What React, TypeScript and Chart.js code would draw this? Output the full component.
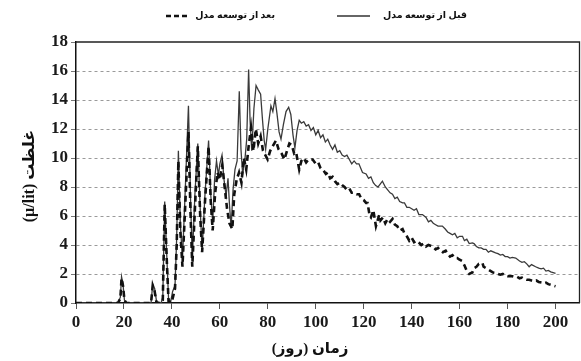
import React, { useEffect, useRef } from "react";
import { Chart, registerables } from "chart.js";

Chart.register(...registerables);

// Solid line: before model development
const beforeDays = [
  0, 17.5, 18.5, 19, 19.6, 20.2, 21, 31.3, 32, 32.8, 33.6, 35.5, 36.2, 37, 37.8, 38.6, 39.5, 40.3, 41.3, 42,
  42.7, 43.5, 44.4, 45.5, 46.9, 47.8, 48.5, 49.6, 50.8, 51.8, 52.6, 53.8, 55.3, 56.2, 57, 57.8, 58.6, 59.4, 60, 60.9,
  61.8, 62.6, 63.4, 64, 64.7, 65.5, 66.3, 67.2, 68.1, 68.8, 69.5, 70.4, 71.2, 72, 72.6, 73.3, 74.2, 75.1, 76, 77,
  77.8, 78.5, 79.1, 80, 81.3, 82.1, 83, 83.8, 84.7, 85.5, 86.5, 87.6, 88.7, 89.6, 90.5, 91.3, 92.2, 93.1, 94, 95,
  96, 97, 98, 99, 100, 101, 102, 103, 104, 105, 106, 107, 108, 109, 110, 111, 112, 113, 114, 115,
  116, 117, 118, 119.5, 121, 122, 123, 124, 125, 126, 127.8, 129, 130, 131, 132, 133, 134, 135, 136.2, 137,
  138, 139, 140, 141, 142, 143, 144.5, 146, 147, 148, 149, 150, 151, 152.8, 154, 155, 156, 157, 158, 159,
  160, 161.2, 162, 163, 164, 165.3, 166, 167, 168, 169, 170, 171, 172, 173, 175, 176, 177, 178, 179, 180,
  181, 182, 183.4, 185, 186, 187, 188, 189, 190, 191.7, 193, 194, 195, 196, 197, 198, 199, 200,
];
const beforeValues = [
  0, 0, 0.4, 1.8, 1.3, 0.2, 0, 0, 1.3, 1.0, 0.1, 0, 0.4, 7.0, 3.5, 0.3, 0.1, 0.8, 1.2, 4.5,
  10.5, 5.5, 3.0, 7.5, 13.6, 7.0, 3.0, 7.5, 11.0, 6.5, 3.6, 7.5, 11.2, 7.5, 5.5, 8.5, 9.8, 8.8, 9.6, 10.2,
  8.4, 7.4, 8.6, 6.8, 5.2, 7.8, 9.2, 9.8, 14.6, 10.6, 8.9, 9.8, 11.3, 16.1, 12.6, 10.5, 13.4, 15.0, 14.7, 14.4,
  12.6, 11.2, 10.6, 12.0, 13.6, 13.2, 14.1, 13.1, 11.8, 11.3, 12.3, 13.2, 13.5, 13.0, 11.6, 10.7, 11.9, 12.6, 12.4, 12.5,
  12.2, 12.3, 11.9, 12.1, 11.6, 11.9, 11.4, 11.6, 11.1, 11.3, 10.9, 10.6, 10.9, 10.4, 10.5, 10.2, 10.1, 10.2, 9.9, 9.6,
  9.8, 9.6, 9.6, 9.0, 8.9, 8.6, 8.7, 8.3, 8.1, 8.0, 8.4, 8.0, 7.8, 7.6, 7.5, 7.2, 7.3, 7.0, 6.9, 6.9,
  6.6, 6.6, 6.5, 6.4, 6.5, 6.1, 6.1, 5.9, 5.6, 5.7, 5.5, 5.4, 5.3, 5.3, 5.1, 4.9, 4.8, 4.7, 4.8, 4.5,
  4.6, 4.6, 4.3, 4.4, 4.1, 4.15, 4.1, 3.9, 3.8, 3.8, 3.7, 3.7, 3.5, 3.6, 3.46, 3.4, 3.3, 3.35, 3.2, 3.2,
  3.1, 3.15, 3.1, 2.9, 2.8, 2.85, 2.7, 2.5, 2.65, 2.5, 2.4, 2.35, 2.4, 2.2, 2.25, 2.15, 2.1, 2.05,
];

// Dashed line: after model development
const afterDays = [
  0, 17.5, 18.5, 19, 19.6, 20.2, 21, 31.3, 32, 32.8, 33.6, 35.5, 36.2, 37, 37.8, 38.6, 39.5, 40.3, 41.3, 42,
  42.7, 43.5, 44.4, 45.5, 46.9, 47.8, 48.5, 49.6, 50.8, 51.8, 52.6, 53.8, 55.3, 56.2, 57, 58, 59, 60, 61, 62,
  63, 64, 65.2, 66, 67, 68, 69, 70, 71, 72, 73, 74, 75, 76, 77, 78, 79.9, 81, 82, 83.4,
  84.5, 85.8, 86.9, 88, 89, 90, 91, 91.8, 93.1, 94, 95, 96, 97, 98.7, 100, 101, 102, 103, 104.2, 105,
  106, 107, 108, 109, 110, 111.2, 112, 113, 114, 115, 116, 117, 118.1, 119, 120, 121, 121.6, 122.5, 123, 124,
  125.1, 126.5, 127, 128, 129, 130, 131, 132, 133, 134, 135, 136.2, 137, 138, 139, 140, 141, 142, 143.1, 144,
  145, 146, 147, 148.7, 150, 151, 152, 153, 154.2, 155, 156, 157, 158, 159, 159.8, 161, 162, 163, 164, 165.3,
  166, 167, 168, 169.5, 170, 171, 172, 173, 174, 175.1, 176, 177, 178, 179, 180, 182, 183, 184, 185, 186,
  187, 188, 189, 190, 191, 192, 193, 194.5, 195, 196, 197, 198, 199, 200,
];
const afterValues = [
  0, 0, 0.3, 1.7, 1.2, 0.2, 0, 0, 1.2, 0.8, 0, 0, 0.2, 6.8, 3.2, 0.1, 0, 0.3, 1.0, 4.0,
  9.8, 5.0, 2.5, 6.5, 11.8, 6.0, 2.5, 6.5, 10.8, 6.0, 3.5, 7.0, 10.8, 7.0, 5.0, 7.5, 9.0, 8.5, 9.5, 8.0,
  6.5, 5.5, 5.1, 7.5, 8.5, 9.0, 8.3, 10.0, 9.2, 10.8, 12.1, 10.5, 12.0, 11.0, 11.5, 10.5, 9.9, 10.5, 10.8, 11.2,
  10.6, 10.3, 9.9, 10.5, 11.0, 10.9, 10.3, 10.4, 9.2, 9.8, 10.0, 9.7, 9.9, 9.9, 9.6, 9.7, 9.3, 9.2, 8.9, 9.0,
  8.6, 8.7, 8.4, 8.2, 8.3, 8.1, 8.0, 7.8, 7.9, 7.6, 7.6, 7.5, 7.5, 7.2, 7.1, 6.9, 6.9, 6.0, 5.9, 6.4,
  5.3, 6.1, 5.7, 5.9, 5.5, 5.8, 5.6, 5.8, 5.4, 5.3, 5.0, 5.1, 4.8, 4.6, 4.3, 4.5, 4.2, 4.3, 4.15, 4.0,
  4.1, 3.9, 4.0, 3.9, 3.7, 3.8, 3.6, 3.5, 3.6, 3.4, 3.2, 3.3, 3.1, 3.1, 3.0, 2.9, 2.6, 2.2, 2.0, 2.1,
  2.4, 2.5, 2.7, 2.77, 2.5, 2.4, 2.3, 2.2, 2.1, 2.07, 2.0, 1.95, 2.0, 1.9, 1.85, 1.85, 1.8, 1.8, 1.7, 1.75,
  1.65, 1.6, 1.6, 1.55, 1.5, 1.55, 1.45, 1.4, 1.35, 1.4, 1.3, 1.25, 1.2, 1.15,
];

const xTicks = [0, 20, 40, 60, 80, 100, 120, 140, 160, 180, 200];
const yTicks = [0, 2, 4, 6, 8, 10, 12, 14, 16, 18];
const beforeLabel = "قبل از توسعه مدل";
const afterLabel = "بعد از توسعه مدل";
const xTitle = "زمان (روز)";
const yTitle = "غلظت (µ/lit)";

const SERIF = "'Liberation Serif', 'Times New Roman', 'DejaVu Sans', serif";

const decorPlugin = {
  id: "decor",
  afterDatasetsDraw(chart: any) {
    const { ctx, chartArea } = chart;
    ctx.save();
    ctx.strokeStyle = "#222";
    ctx.lineWidth = 1.3;
    ctx.beginPath();
    ctx.moveTo(chartArea.left, chartArea.top);
    ctx.lineTo(chartArea.right, chartArea.top);
    ctx.lineTo(chartArea.right, chartArea.bottom);
    ctx.stroke();
    ctx.restore();
  },
  afterDraw(chart: any) {
    const { ctx } = chart;
    ctx.save();
    ctx.fillStyle = "#111";
    ctx.direction = "rtl";
    ctx.textBaseline = "middle";

    // legend
    ctx.font = `bold 9.5px ${SERIF}`;
    ctx.textAlign = "right";
    ctx.fillText(beforeLabel, 467, 16);
    ctx.fillText(afterLabel, 275, 16);
    ctx.strokeStyle = "#333";
    ctx.lineWidth = 1.4;
    ctx.beginPath();
    ctx.moveTo(337, 16);
    ctx.lineTo(370, 16);
    ctx.stroke();
    ctx.strokeStyle = "#111";
    ctx.lineWidth = 2.5;
    ctx.setLineDash([5, 3]);
    ctx.beginPath();
    ctx.moveTo(166, 16);
    ctx.lineTo(187, 16);
    ctx.stroke();
    ctx.setLineDash([]);

    // x title
    ctx.font = `bold 15px ${SERIF}`;
    ctx.textAlign = "center";
    ctx.fillText(xTitle, 310, 349);

    // y title
    ctx.font = `bold 16px ${SERIF}`;
    ctx.translate(30, 176);
    ctx.rotate(-Math.PI / 2);
    ctx.fillText(yTitle, 0, 0);
    ctx.restore();
  },
};

export default function App() {
  const ref = useRef<HTMLCanvasElement | null>(null);

  useEffect(() => {
    document.body.style.margin = "0";
    const canvas = ref.current;
    if (!canvas) return;
    const chart = new Chart(canvas, {
      type: "line",
      data: {
        datasets: [
          {
            label: afterLabel,
            data: afterDays.map((d, i) => ({ x: d, y: afterValues[i] })),
            borderColor: "#111",
            borderWidth: 2.6,
            borderDash: [6, 4],
            pointRadius: 0,
            fill: false,
            tension: 0,
          },
          {
            label: beforeLabel,
            data: beforeDays.map((d, i) => ({ x: d, y: beforeValues[i] })),
            borderColor: "#3a3a3a",
            borderWidth: 1.3,
            pointRadius: 0,
            fill: false,
            tension: 0,
          },
        ],
      },
      options: {
        animation: false,
        responsive: false,
        devicePixelRatio: 1,
        layout: { padding: { top: 42, right: 1.5, left: 0, bottom: 0 } },
        plugins: {
          legend: { display: false },
          title: { display: false },
          tooltip: { enabled: false },
        },
        scales: {
          x: {
            type: "linear",
            min: 0,
            max: 210,
            afterBuildTicks: (s: any) => {
              s.ticks = xTicks.map((v) => ({ value: v }));
            },
            afterFit: (s: any) => {
              s.height = 58;
            },
            ticks: {
              color: "#1a1a1a",
              padding: 3,
              maxRotation: 0,
              font: { family: SERIF, size: 17, weight: "bold" },
            },
            grid: {
              drawOnChartArea: false,
              tickLength: 6,
              tickColor: "#555",
              color: "#555",
            },
            border: { display: true, color: "#111", width: 1.5 },
          },
          y: {
            type: "linear",
            min: 0,
            max: 18,
            afterBuildTicks: (s: any) => {
              s.ticks = yTicks.map((v) => ({ value: v }));
            },
            afterFit: (s: any) => {
              s.width = 76;
            },
            ticks: {
              color: "#1a1a1a",
              padding: 3,
              font: { family: SERIF, size: 17, weight: "bold" },
            },
            grid: {
              color: (c: any) => (c.tick && (c.tick.value === 0 || c.tick.value === 18) ? "rgba(0,0,0,0)" : "#9a9a9a"),
              lineWidth: 1,
              tickLength: 5,
              tickColor: "#777",
            },
            border: { display: true, color: "#111", width: 1.5, dash: [3, 3] },
          },
        },
      },
      plugins: [decorPlugin],
    } as any);
    return () => chart.destroy();
  }, []);

  return (
    <div style={{ position: "absolute", left: 0, top: 0, width: 581, height: 361 }}>
      <canvas ref={ref} width={581} height={361} />
    </div>
  );
}
